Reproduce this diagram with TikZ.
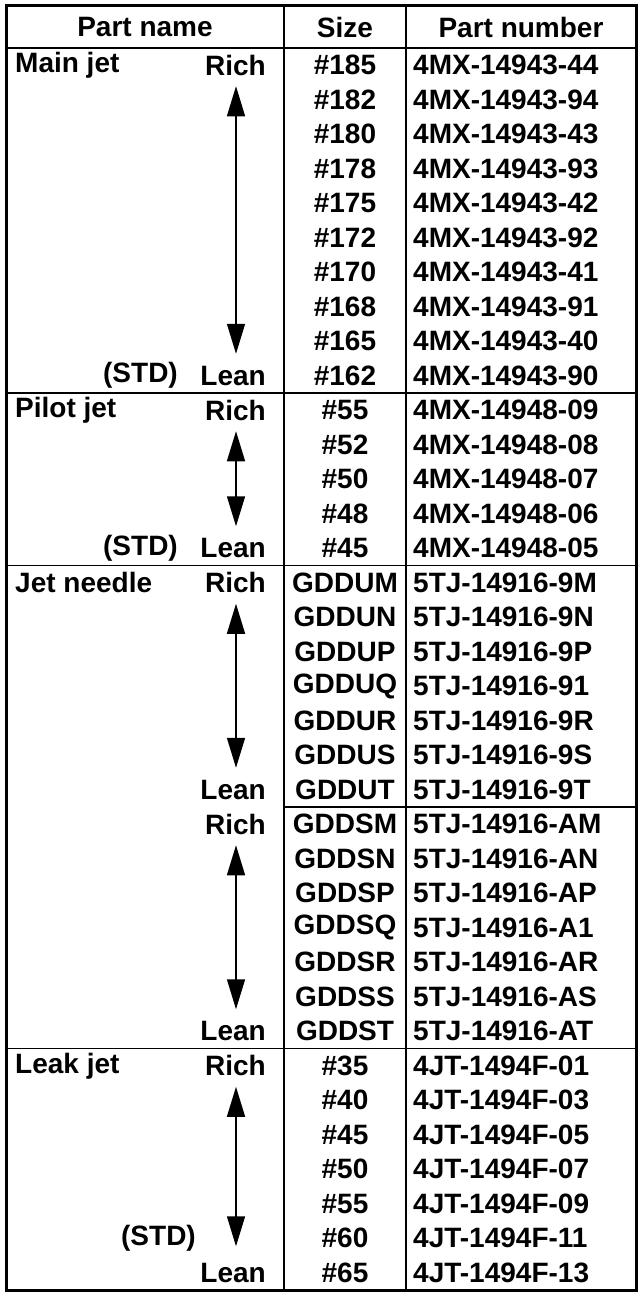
\documentclass[tikz,border=0pt]{standalone}
\usepackage{fontspec}
\setmainfont{Liberation Sans}
\usetikzlibrary{arrows.meta}

\begin{document}
\begin{tikzpicture}[x=1pt,y=-1pt,
    cell/.style={font=\bfseries\fontsize{28}{30}\selectfont,inner sep=0pt},
    size/.style={cell,anchor=center},
    partno/.style={cell,anchor=west},
    left/.style={cell,anchor=west},
    right/.style={cell,anchor=east},
    rule/.style={line width=1.5pt},
    span/.style={line width=1.5pt,{Triangle[length=30pt,width=18pt]}-{Triangle[length=30pt,width=18pt]}}]
  \useasboundingbox (0,0) rectangle (641,1298);
  % header
  \node[size] (h1) at (145,27) {Part name};
  \node[size] (h2) at (345,27) {Size};
  \node[size] (h3) at (521,27) {Part number};
  % rows: index/size/part number
  \foreach \i/\s/\p in {0/\#185/4MX-14943-44,1/\#182/4MX-14943-94,2/\#180/4MX-14943-43,
      3/\#178/4MX-14943-93,4/\#175/4MX-14943-42,5/\#172/4MX-14943-92,6/\#170/4MX-14943-41,
      7/\#168/4MX-14943-91,8/\#165/4MX-14943-40,9/\#162/4MX-14943-90,
      10/\#55/4MX-14948-09,11/\#52/4MX-14948-08,12/\#50/4MX-14948-07,13/\#48/4MX-14948-06,
      14/\#45/4MX-14948-05,
      15/GDDUM/5TJ-14916-9M,16/GDDUN/5TJ-14916-9N,17/GDDUP/5TJ-14916-9P,18/GDDUQ/5TJ-14916-91,
      19/GDDUR/5TJ-14916-9R,20/GDDUS/5TJ-14916-9S,21/GDDUT/5TJ-14916-9T,
      22/GDDSM/5TJ-14916-AM,23/GDDSN/5TJ-14916-AN,24/GDDSP/5TJ-14916-AP,25/GDDSQ/5TJ-14916-A1,
      26/GDDSR/5TJ-14916-AR,27/GDDSS/5TJ-14916-AS,28/GDDST/5TJ-14916-AT,
      29/\#35/4JT-1494F-01,30/\#40/4JT-1494F-03,31/\#45/4JT-1494F-05,32/\#50/4JT-1494F-07,
      33/\#55/4JT-1494F-09,34/\#60/4JT-1494F-11,35/\#65/4JT-1494F-13}{
    \node[size] (s\i) at (345,{48+34.5*(\i+0.5)}) {\s};
    \node[partno] (p\i) at (413,{48+34.5*(\i+0.5)}) {\p};
  }
  % part names and rich/lean
  \foreach \i/\n in {0/Main jet,10/Pilot jet,15/Jet needle,29/Leak jet}
    \node[left] (n\i) at (15,{48+34.5*(\i+0.5)}) {\n};
  \foreach \i in {0,10,15,22,29}
    \node[right] (r\i) at (266,{48+34.5*(\i+0.5)}) {Rich};
  \foreach \i in {9,14,21,28,35}
    \node[right] (l\i) at (266,{48+34.5*(\i+0.5)}) {Lean};
  \node[right] (std9) at (178,{48+34.5*9.5}) {(STD)};
  \node[right] (std14) at (178,{48+34.5*14.5}) {(STD)};
  \node[right] (std34) at (196,{48+34.5*34.5}) {(STD)};
  % arrows
  \draw[span] (236,{48+34.5*0.5+21}) coordinate (a0) -- (236,{48+34.5*9.5-22}) coordinate (b0);
  \draw[span] (236,{48+34.5*10.5+21}) coordinate (a1) -- (236,{48+34.5*14.5-22}) coordinate (b1);
  \draw[span] (236,{48+34.5*15.5+21}) coordinate (a2) -- (236,{48+34.5*21.5-22}) coordinate (b2);
  \draw[span] (236,{48+34.5*22.5+21}) coordinate (a3) -- (236,{48+34.5*28.5-22}) coordinate (b3);
  \draw[span] (236,{48+34.5*29.5+21}) coordinate (a4) -- (236,{48+34.5*34.5+8}) coordinate (b4);
  % grid
  \draw[rule] (6,48) -- (636,48);
  \foreach \i in {10,15,29}
    \draw[rule] (6,{48+34.5*\i}) -- (636,{48+34.5*\i});
  \draw[rule] (284,{48+34.5*22}) -- (636,{48+34.5*22});
  \draw[rule] (284,6) -- (284,1290);
  \draw[rule] (406,6) -- (406,1290);
  \draw[line width=3pt] (6,6) rectangle (636,1290);
\end{tikzpicture}
\end{document}
